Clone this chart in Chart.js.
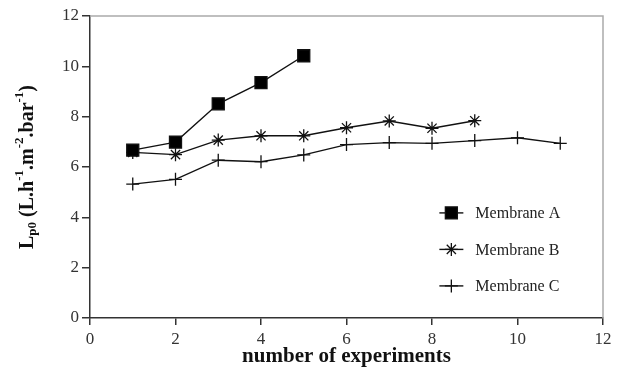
<!DOCTYPE html>
<html>
<head>
<meta charset="utf-8">
<script src="https://cdn.jsdelivr.net/npm/chart.js@4.4.0/dist/chart.umd.min.js"></script>
<style>
  body { margin: 0; background: #fff; }
  #wrap { width: 626px; height: 373px; }
</style>
</head>
<body>
<div id="wrap"><canvas id="myChart"></canvas></div>
<script>
// ---------------- data ----------------
const experiments = [1, 2, 3, 4, 5, 6, 7, 8, 9, 10, 11];
const membraneA = [6.67, 6.99, 8.51, 9.35, 10.42];
const membraneB = [6.58, 6.49, 7.07, 7.24, 7.24, 7.56, 7.83, 7.54, 7.84];
const membraneC = [5.32, 5.51, 6.27, 6.21, 6.48, 6.89, 6.97, 6.94, 7.05, 7.16, 6.94];
const seriesNames = ["Membrane A", "Membrane B", "Membrane C"];
const xTicks = [0, 2, 4, 6, 8, 10, 12];
const yTicks = [0, 2, 4, 6, 8, 10, 12];
const xTitle = "number of experiments";

const serif = "'Liberation Serif', 'Times New Roman', serif";
const axisColor = "#333";

function toPoints(values) {
  return values.map((v, i) => ({ x: experiments[i], y: v }));
}

// gray top/right frame
const framePlugin = {
  id: "frame",
  beforeDatasetsDraw(chart) {
    const { ctx, chartArea: a } = chart;
    ctx.save();
    ctx.strokeStyle = "#aaa";
    ctx.lineWidth = 1.5;
    ctx.beginPath();
    ctx.moveTo(a.left, a.top);
    ctx.lineTo(a.right, a.top);
    ctx.lineTo(a.right, a.bottom);
    ctx.stroke();
    ctx.restore();
  }
};

// y title with sub/superscripts
const yTitlePlugin = {
  id: "yTitle",
  afterDraw(chart) {
    const { ctx, chartArea: a } = chart;
    const big = "bold 20px " + serif;
    const small = "bold 13px " + serif;
    const parts = [
      ["L", big, 0], ["p0", small, 5], [" (L.h", big, 0], ["-1", small, -8],
      [".m", big, 0], ["-2", small, -8], [".bar", big, 0], ["-1", small, -8], [")", big, 0]
    ];
    ctx.save();
    let w = 0;
    parts.forEach(p => { ctx.font = p[1]; w += ctx.measureText(p[0]).width; });
    ctx.translate(27, (a.top + a.bottom) / 2);
    ctx.rotate(-Math.PI / 2);
    ctx.fillStyle = "#111";
    ctx.textBaseline = "middle";
    let x = -w / 2;
    parts.forEach(p => {
      ctx.font = p[1];
      ctx.fillText(p[0], x, p[2] + 1);
      x += ctx.measureText(p[0]).width;
    });
    ctx.restore();
  }
};

// legend with line + marker inside the plot
const legendPlugin = {
  id: "lineLegend",
  afterDatasetsDraw(chart) {
    const { ctx, chartArea: a } = chart;
    const x0 = a.left + (a.right - a.left) * 0.681;
    const x1 = x0 + 24;
    const rowTop = a.top + (a.bottom - a.top) * 0.652;
    ctx.save();
    chart.data.datasets.forEach((ds, i) => {
      const y = rowTop + i * 36.5;
      ctx.strokeStyle = ds.borderColor;
      ctx.lineWidth = ds.borderWidth;
      ctx.beginPath();
      ctx.moveTo(x0, y);
      ctx.lineTo(x1, y);
      ctx.stroke();
      ctx.fillStyle = ds.pointBackgroundColor;
      ctx.strokeStyle = ds.pointBorderColor;
      ctx.lineWidth = ds.pointBorderWidth;
      Chart.helpers.drawPoint(ctx, { pointStyle: ds.pointStyle, radius: ds.pointRadius, rotation: 0, borderWidth: ds.pointBorderWidth }, (x0 + x1) / 2, y);
      ctx.fillStyle = "#222";
      ctx.font = "16px " + serif;
      ctx.textBaseline = "middle";
      ctx.fillText(ds.label, x1 + 12, y + 1);
    });
    ctx.restore();
  }
};

function lineSet(label, values, style, radius) {
  return {
    label: label,
    data: toPoints(values),
    borderColor: "#111",
    borderWidth: 1.4,
    pointStyle: style,
    pointRadius: radius,
    pointHoverRadius: radius,
    pointBackgroundColor: "#000",
    pointBorderColor: "#111",
    pointBorderWidth: 1.3,
    tension: 0
  };
}

new Chart("myChart", {
  type: "line",
  data: {
    datasets: [
      lineSet(seriesNames[0], membraneA, "rect", 8.5),
      lineSet(seriesNames[1], membraneB, "star", 6.5),
      lineSet(seriesNames[2], membraneC, "cross", 6.5)
    ]
  },
  options: {
    responsive: true,
    maintainAspectRatio: false,
    animation: false,
    layout: { padding: { top: 16, right: 23, left: 0, bottom: 0 } },
    plugins: {
      legend: { display: false },
      tooltip: { enabled: false }
    },
    scales: {
      x: {
        type: "linear",
        min: 0,
        max: 12,
        afterBuildTicks: s => { s.ticks = xTicks.map(v => ({ value: v })); },
        afterFit: s => { s.height = 55; },
        grid: { drawOnChartArea: false, tickLength: 7, color: axisColor, lineWidth: 1.5 },
        border: { color: axisColor, width: 1.5 },
        ticks: { color: "#333", font: { family: serif, size: 17 }, padding: 4, maxRotation: 0 },
        title: { display: true, text: xTitle, color: "#111", font: { family: serif, size: 21, weight: "bold" }, padding: { top: 1 } }
      },
      y: {
        type: "linear",
        min: 0,
        max: 12,
        afterBuildTicks: s => { s.ticks = yTicks.map(v => ({ value: v })); },
        afterFit: s => { s.width = 90; },
        grid: { drawOnChartArea: false, tickLength: 8, color: axisColor, lineWidth: 1.5 },
        border: { color: axisColor, width: 1.5 },
        ticks: { color: "#333", font: { family: serif, size: 17 }, padding: 3 }
      }
    }
  },
  plugins: [framePlugin, yTitlePlugin, legendPlugin]
});
</script>
</body>
</html>
